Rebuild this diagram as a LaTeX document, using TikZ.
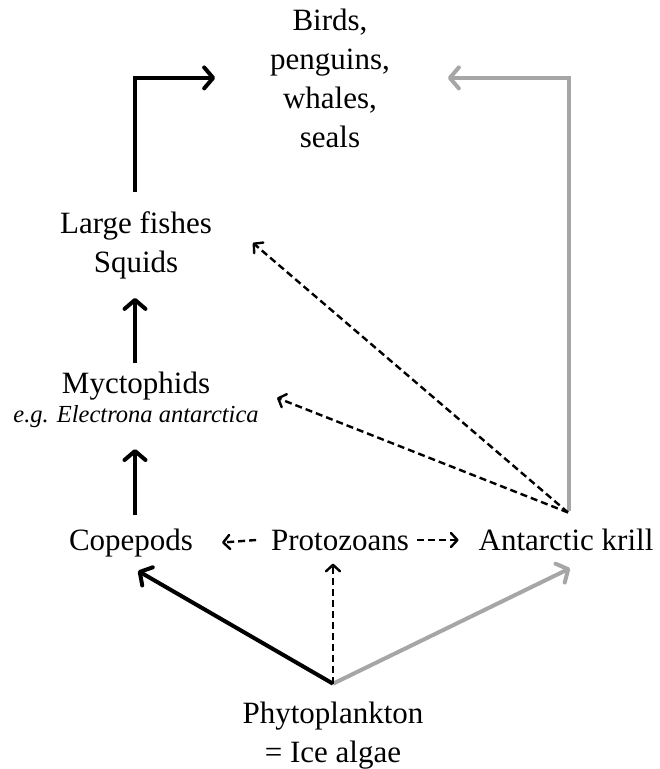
\documentclass[tikz,border=0pt]{standalone}
\usepackage{fontspec}
\setmainfont{Liberation Serif}
\usetikzlibrary{arrows.meta}
\definecolor{krillgray}{RGB}{166,166,166}
\begin{document}
\begin{tikzpicture}[x=1pt,y=-1pt,
  lbl/.style={inner sep=0pt, outer sep=0pt, align=center, font=\fontsize{31}{39}\selectfont, anchor=base},
  heavy/.style={line width=4pt, -{Straight Barb[length=9pt,width=21pt,round]}},
  grayheavy/.style={heavy, draw=krillgray},
  dashedarrow/.style={line width=2.4pt, dash pattern=on 7pt off 4pt, -{Straight Barb[length=6.5pt,width=14pt,round]}}
]
\useasboundingbox (0,0) rectangle (660,769);
% base anchor = baseline of the last line
\node[lbl] (top) at (330,147) {Birds,\\penguins,\\whales,\\seals};
\node[lbl] (large) at (136,272) {Large fishes\\Squids};
\node[lbl] (myct) at (136,422) {Myctophids\\[-10pt]{\fontsize{24.5}{29}\selectfont\itshape e.g. Electrona antarctica}};
\node[lbl] (cope) at (131,550) {Copepods};
\node[lbl] (proto) at (340,550) {Protozoans};
\node[lbl] (krill) at (566,550) {Antarctic krill};
\node[lbl] (phyto) at (333,762) {Phytoplankton\\= Ice algae};

% upward chain
\draw[heavy] ([xshift=-1pt,yshift=18.8pt]large.north) |- ([xshift=-55pt]top.west);
\draw[heavy] ([xshift=-1pt,yshift=8.8pt]myct.north) -- ([xshift=-1pt,yshift=-19.3pt]large.south);
\draw[heavy] ([xshift=4pt,yshift=13.8pt]cope.north) -- ([xshift=-1pt,yshift=-21.8pt]myct.south);
\draw[grayheavy] ([xshift=3pt,yshift=17.8pt]krill.north) |- ([xshift=58pt]top.east);

% from phytoplankton
\draw[heavy] ([yshift=17.8pt]phyto.north) -- ([xshift=7pt,yshift=-14.3pt]cope.south);
\draw[grayheavy] ([yshift=17.8pt]phyto.north) -- ([xshift=4pt,yshift=-18pt]krill.south);
\draw[dashedarrow] ([yshift=17.8pt]phyto.north) -- ([xshift=-7pt,yshift=-13.3pt]proto.south);

% protozoans
\draw[dashedarrow] ([xshift=-15pt]proto.west) -- ([xshift=29pt]cope.east);
\draw[dashedarrow] ([xshift=8pt]proto.east) -- ([xshift=-20pt]krill.west |- proto.east);

% krill to fishes / myctophids
\draw[dashedarrow] ([xshift=2pt,yshift=16pt]krill.north) -- ([xshift=41pt,yshift=2pt]large.east);
\draw[dashedarrow] ([xshift=2pt,yshift=16pt]krill.north) -- ([xshift=18.5pt,yshift=1.5pt]myct.east);
\end{tikzpicture}
\end{document}
